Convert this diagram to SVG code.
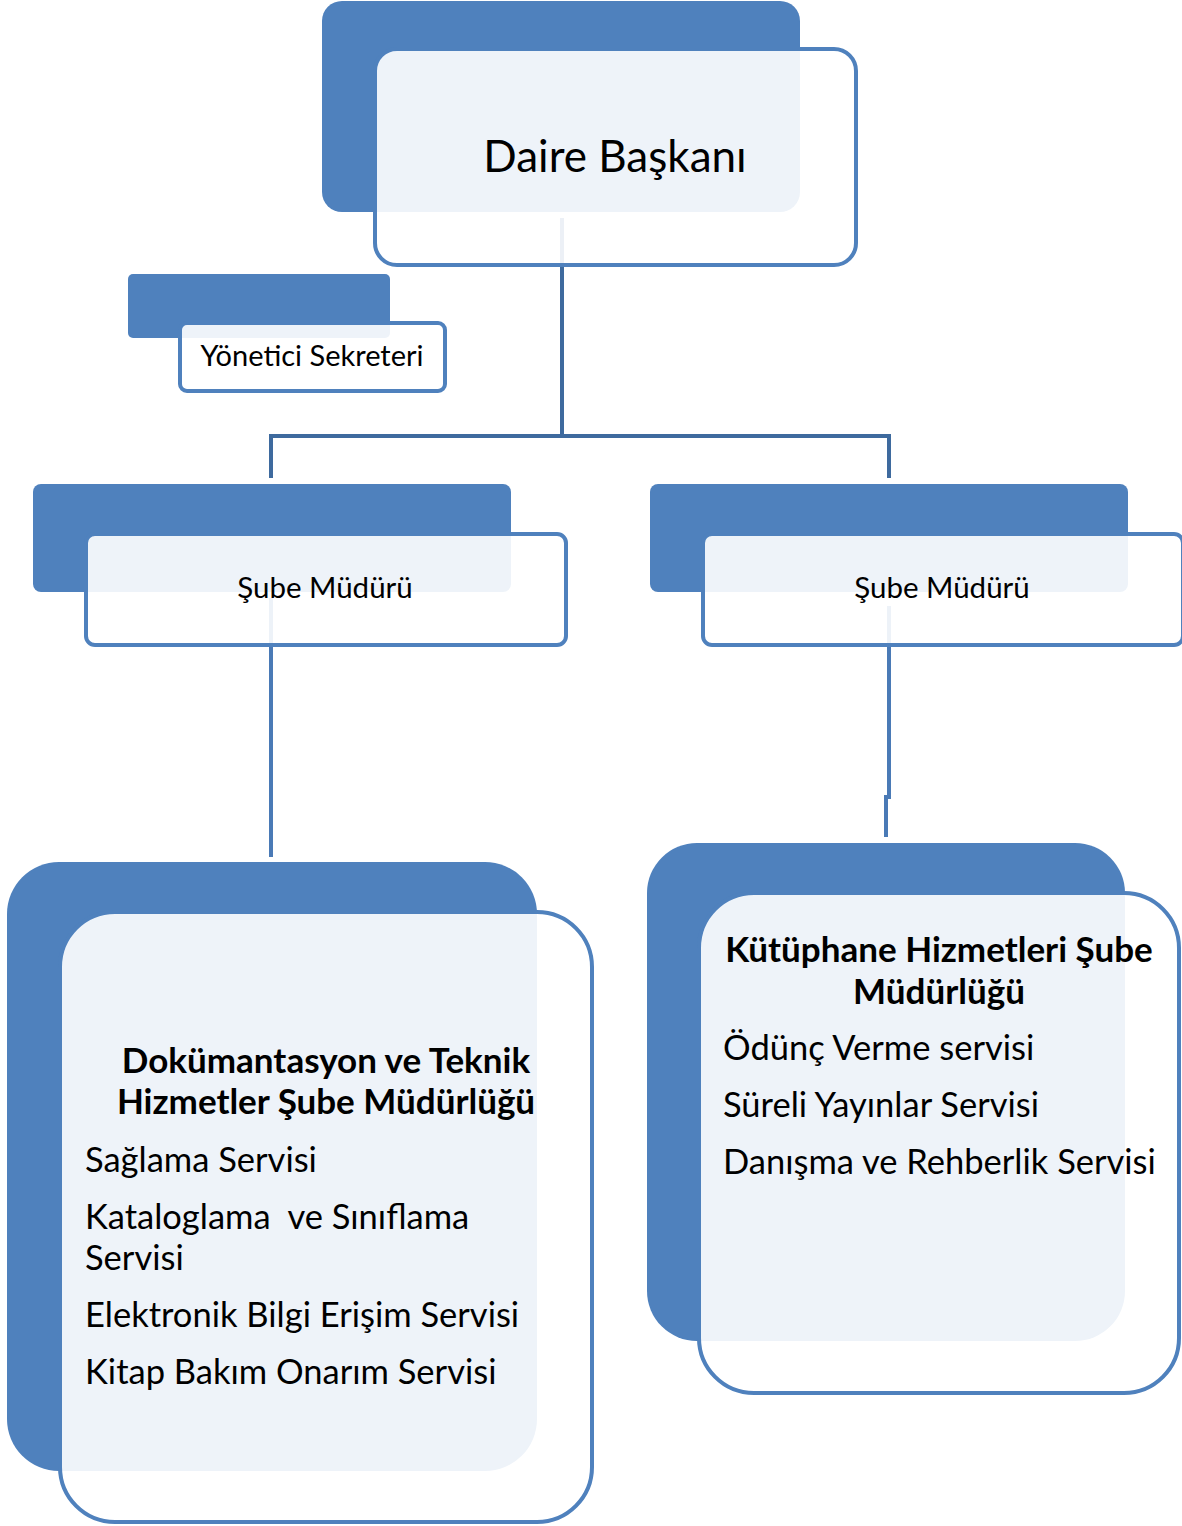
<svg xmlns="http://www.w3.org/2000/svg" width="1182" height="1526" viewBox="0 0 1182 1526">
<style>
.back{fill:#4F81BD}
.front{fill:#FFFFFF;fill-opacity:0.9;stroke:#4F81BD;stroke-width:4}
.conn{fill:none;stroke:#3E6A9E;stroke-width:4}
.conn2{fill:none;stroke:#4A7AB6;stroke-width:4}
text{font-family:Lato,"Open Sans","Liberation Sans",sans-serif;fill:#000}
.b{font-weight:bold;font-size:35px}
.item{font-size:34.5px}
</style>
<rect width="1182" height="1526" fill="#FFFFFF"/>
<g id="backs">
<rect class="back" x="322" y="1" width="478" height="211" rx="20"/>
<rect class="back" x="128" y="274" width="262" height="64" rx="5"/>
<rect class="back" x="33" y="484" width="478" height="108" rx="8"/>
<rect class="back" x="650" y="484" width="478" height="108" rx="8"/>
<rect class="back" x="7" y="862" width="530" height="609" rx="52"/>
<rect class="back" x="647" y="843" width="478" height="498" rx="50"/>
</g>
<g id="connectors">
<path class="conn" d="M562,218 V436 M271,478 V436 H889 V478"/>
<path class="conn2" d="M271,598 V857"/>
<path class="conn2" d="M889,606 V797 H886 V837"/>
</g>
<g id="node-daire">
<rect class="front" x="375" y="49" width="481" height="216" rx="22"/>
<text x="615" y="172" font-size="44" text-anchor="middle">Daire Başkanı</text>
</g>
<g id="node-sekreter">
<rect class="front" x="180" y="323" width="265" height="68" rx="7"/>
<text x="312" y="366" font-size="29" text-anchor="middle">Yönetici Sekreteri</text>
</g>
<g id="node-sube-left">
<rect class="front" x="86" y="534" width="480" height="111" rx="9"/>
<text x="325" y="598" font-size="29.5" text-anchor="middle">Şube Müdürü</text>
</g>
<g id="node-sube-right">
<rect class="front" x="703" y="534" width="480" height="111" rx="9"/>
<text x="942" y="598" font-size="29.5" text-anchor="middle">Şube Müdürü</text>
</g>
<g id="node-dokumantasyon">
<rect class="front" x="60" y="912" width="532" height="610" rx="55"/>
<text class="b" x="326" y="1073" text-anchor="middle">Dokümantasyon ve Teknik</text>
<text class="b" x="326" y="1114" text-anchor="middle">Hizmetler Şube Müdürlüğü</text>
<text class="item" x="85" y="1172">Sağlama Servisi</text>
<text class="item" x="85" y="1229" xml:space="preserve">Kataloglama  ve Sınıflama</text>
<text class="item" x="85" y="1270">Servisi</text>
<text class="item" x="85" y="1327">Elektronik Bilgi Erişim Servisi</text>
<text class="item" x="85" y="1384">Kitap Bakım Onarım Servisi</text>
</g>
<g id="node-kutuphane">
<rect class="front" x="699" y="893" width="480" height="500" rx="55"/>
<text class="b" x="939" y="962" text-anchor="middle">Kütüphane Hizmetleri Şube</text>
<text class="b" x="939" y="1004" text-anchor="middle">Müdürlüğü</text>
<text class="item" x="723" y="1060">Ödünç Verme servisi</text>
<text class="item" x="723" y="1117">Süreli Yayınlar Servisi</text>
<text class="item" x="723" y="1174">Danışma ve Rehberlik Servisi</text>
</g>
</svg>
